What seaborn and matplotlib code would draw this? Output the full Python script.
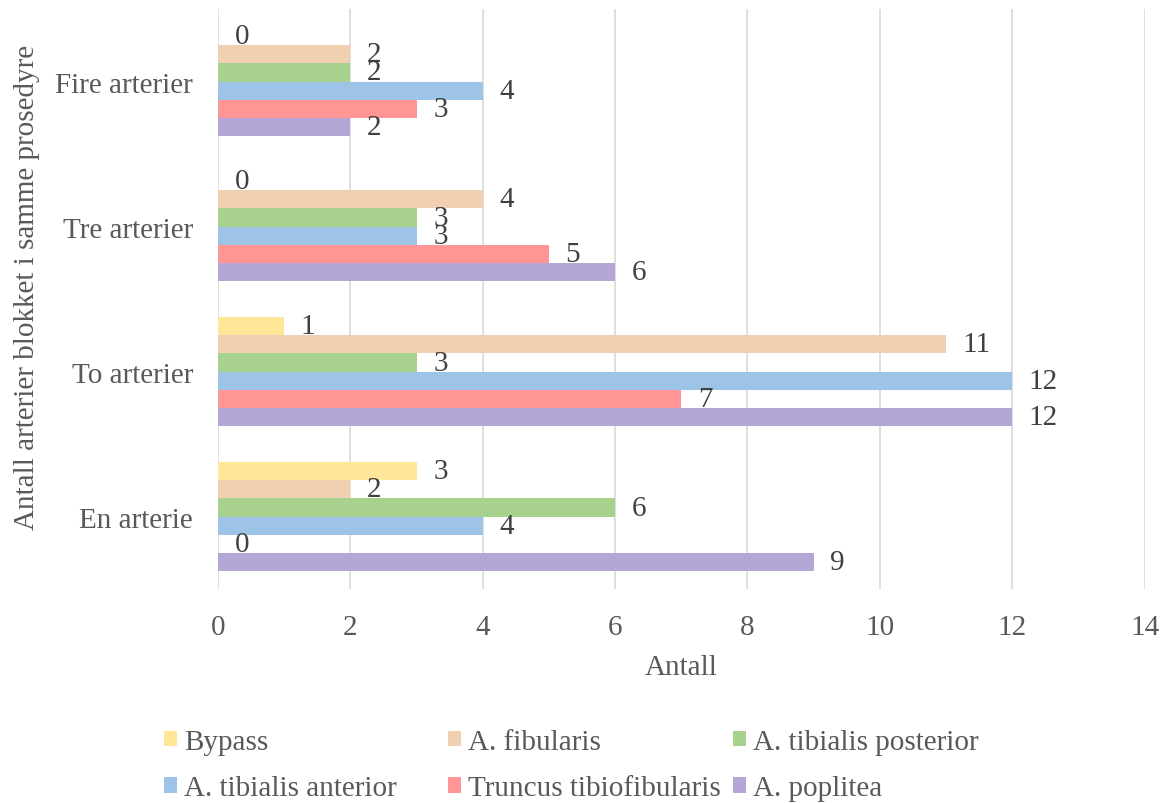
import matplotlib
matplotlib.use("Agg")
import matplotlib.pyplot as plt
import seaborn as sns
import pandas as pd

categories = ["Fire arterier", "Tre arterier", "To arterier", "En arterie"]
series_names = ["Bypass", "A. fibularis", "A. tibialis posterior",
                "A. tibialis anterior", "Truncus tibiofibularis", "A. poplitea"]
bypass = [0, 0, 1, 3]
fibularis = [2, 4, 11, 2]
tib_posterior = [2, 3, 3, 6]
tib_anterior = [4, 3, 12, 4]
truncus = [3, 5, 7, 0]
poplitea = [2, 6, 12, 9]
colors = ["#FFE699", "#F0D0B0", "#A9D18E", "#9DC3E6", "#FF9595", "#B4A7D6"]

values = [bypass, fibularis, tib_posterior, tib_anterior, truncus, poplitea]
rows = []
for name, vals in zip(series_names, values):
    for cat, v in zip(categories, vals):
        rows.append({"Kategori": cat, "Serie": name, "Antall": v})
df = pd.DataFrame(rows)

sns.set_theme(style="white")
plt.rcParams["font.family"] = ["Liberation Serif", "DejaVu Serif"]

FS = 21
fig = plt.figure(figsize=(11.68, 8.04), dpi=100)
ax = fig.add_axes([0.1866, 0.266, 0.7934, 0.7215])

sns.barplot(data=df, y="Kategori", x="Antall", hue="Serie", order=categories,
            hue_order=series_names, palette=colors, orient="h", width=0.75,
            saturation=1, errorbar=None, ax=ax, edgecolor="none")

ax.set_xlim(0, 14)
ax.set_xticks(range(0, 15, 2))
ax.grid(axis="x", color="#D9D9D9", linewidth=1.2)
ax.set_axisbelow(True)
for s in ["top", "right", "bottom", "left"]:
    ax.spines[s].set_visible(False)
ax.tick_params(axis="x", length=0, labelsize=FS, labelcolor="#595959", pad=18)
ax.tick_params(axis="y", length=0, labelsize=FS, labelcolor="#595959", pad=18)
ax.set_xlabel("Antall", fontsize=FS, color="#595959", labelpad=10)
ax.set_ylabel("Antall arterier blokket i samme prosedyre", fontsize=FS,
              color="#595959")
ax.yaxis.set_label_coords(-0.1925, 0.5226)

for cont in ax.containers:
    ax.bar_label(cont, fmt="%d", padding=12, fontsize=FS, color="#404040")

handles, labels = ax.get_legend_handles_labels()
ax.get_legend().remove()
col_x = [164, 448, 733]
for c in range(3):
    idx = [c, c + 3]
    fig.legend([handles[i] for i in idx], [labels[i] for i in idx],
               loc="upper left", bbox_to_anchor=(col_x[c] / 1168, 1 - 730 / 804),
               ncol=1, frameon=False, fontsize=FS, labelcolor="#595959",
               handlelength=0.45, handleheight=0.45, handletextpad=0.25,
               labelspacing=0.7, borderpad=0, borderaxespad=0)

fig.savefig("out.png", dpi=100)
